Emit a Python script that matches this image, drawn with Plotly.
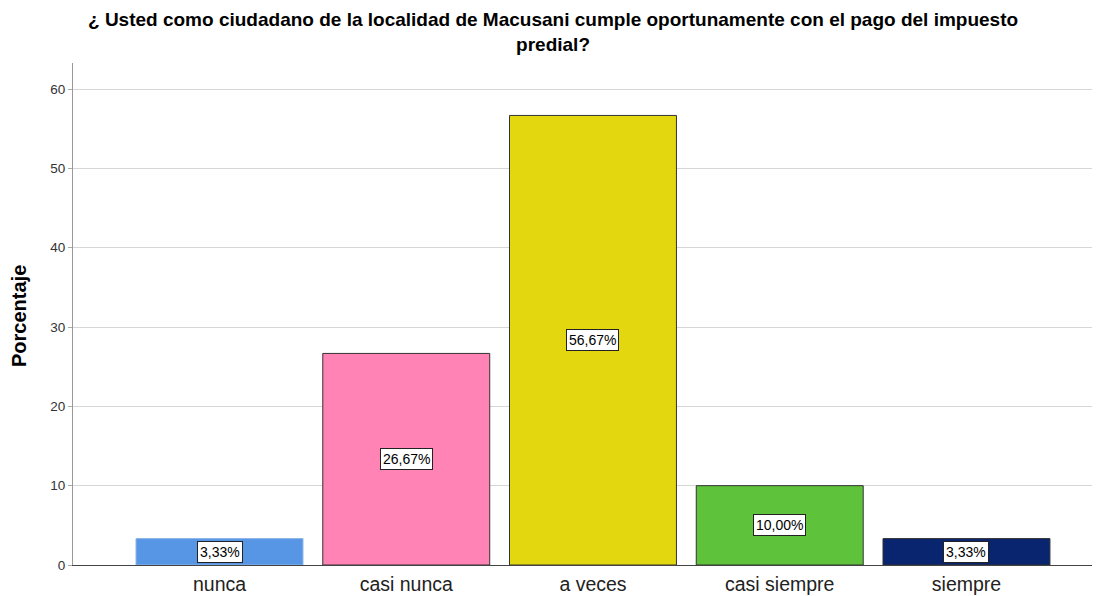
import plotly.graph_objects as go

categories = ["nunca", "casi nunca", "a veces", "casi siempre", "siempre"]
percentages = [3.33, 26.67, 56.67, 10.00, 3.33]
bar_colors = ["#5796E4", "#FF83B5", "#E3D710", "#5EC23A", "#0A2570"]
edge_colors = ["#8CB4E8", "#333333", "#333333", "#333333", "#333333"]
y_ticks = [0, 10, 20, 30, 40, 50, 60]
title_lines = [
    "¿ Usted como ciudadano de la localidad de Macusani cumple oportunamente con el pago del impuesto",
    "predial?",
]

FONT = "Liberation Sans, Arial, sans-serif"
x_idx = list(range(len(categories)))

fig = go.Figure()
fig.add_trace(go.Bar(
    x=x_idx, y=percentages, width=0.894,
    marker=dict(color=bar_colors, line=dict(color=edge_colors, width=1)),
    hoverinfo="skip",
))

for i, v in enumerate(percentages):
    fig.add_annotation(
        x=i, y=v / 2, xref="x", yref="y",
        text=f"{v:.2f}".replace(".", ",") + "%",
        showarrow=False,
        font=dict(family=FONT, size=14, color="#000000"),
        bgcolor="#FFFFFF", bordercolor="#222222", borderwidth=1, borderpad=2,
    )

# title (two lines in one text block)
fig.add_annotation(
    x=0.467, y=1.0608, xref="paper", yref="paper",
    xanchor="center", yanchor="middle",
    text="<b>" + "<br>".join(title_lines) + "</b>", showarrow=False,
    font=dict(family=FONT, size=19, color="#000000"),
)

# y-axis title
fig.add_annotation(
    x=-0.0526, y=0.496, xref="paper", yref="paper",
    xanchor="center", yanchor="middle", textangle=-90,
    text="<b>Porcentaje</b>", showarrow=False,
    font=dict(family=FONT, size=20, color="#000000"),
)

fig.update_layout(
    width=1092, height=588,
    margin=dict(l=65, r=0, t=55, b=31),
    paper_bgcolor="#FFFFFF", plot_bgcolor="#FFFFFF",
    showlegend=False,
    font=dict(family=FONT),
)

fig.update_xaxes(
    range=[-0.7845, 4.715],
    tickmode="array", tickvals=x_idx, ticktext=categories,
    tickfont=dict(size=19.5, color="#222222"),
    showgrid=False, zeroline=False,
    showline=True, linecolor="#444444", linewidth=1,
    ticks="outside", ticklen=2, tickcolor="rgba(0,0,0,0)",
)
fig.update_yaxes(
    range=[0, 63.28],
    tickmode="array", tickvals=y_ticks,
    tickfont=dict(size=13.5, color="#333333"),
    showgrid=True, gridcolor="#D6D6D6", gridwidth=1,
    zeroline=False,
    showline=True, linecolor="#999999", linewidth=1,
    ticks="outside", ticklen=4, tickcolor="#AAAAAA",
)

fig.write_html("out.html")
